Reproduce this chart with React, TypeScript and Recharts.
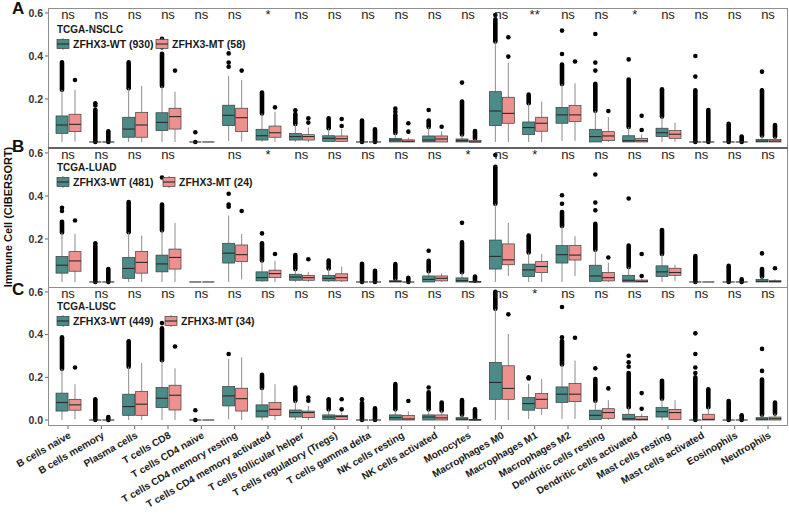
import React from 'react';
import { Bar, ComposedChart, Scatter, XAxis, YAxis } from 'recharts';

type Box = [number, number, number, number, number]; // lower whisker, q1, median, q3, upper whisker

const cells = [
  'B cells naive', 'B cells memory', 'Plasma cells', 'T cells CD8', 'T cells CD4 naive',
  'T cells CD4 memory resting', 'T cells CD4 memory activated', 'T cells follicular helper',
  'T cells regulatory (Tregs)', 'T cells gamma delta', 'NK cells resting', 'NK cells activated',
  'Monocytes', 'Macrophages M0', 'Macrophages M1', 'Macrophages M2', 'Dendritic cells resting',
  'Dendritic cells activated', 'Mast cells resting', 'Mast cells activated', 'Eosinophils', 'Neutrophils',
];

const yTicks = [0, 0.2, 0.4, 0.6];
const yDomain: [number, number] = [-0.028, 0.623];

const cohorts = ['TCGA-NSCLC', 'TCGA-LUAD', 'TCGA-LUSC'];
const wtCounts = [930, 481, 449];
const mtCounts = [58, 24, 34];

// ---- TCGA-NSCLC ----
const nsclcSig = ['ns', 'ns', 'ns', 'ns', 'ns', 'ns', '*', 'ns', 'ns', 'ns', 'ns', 'ns', 'ns', 'ns', '**', 'ns', 'ns', '*', 'ns', 'ns', 'ns', 'ns'];
const nsclcWT: Box[] = [
  [0, 0.04, 0.079, 0.121, 0.243], [0, 0, 0, 0, 0], [0, 0.022, 0.06, 0.115, 0.25], [0, 0.053, 0.091, 0.136, 0.26],
  [0, 0, 0, 0, 0], [0.005, 0.076, 0.124, 0.171, 0.307], [0, 0.009, 0.029, 0.059, 0.133], [0, 0.009, 0.025, 0.04, 0.084],
  [0, 0.003, 0.017, 0.029, 0.064], [0, 0, 0, 0, 0], [0, 0, 0.009, 0.017, 0.042], [0, 0, 0.009, 0.028, 0.07],
  [0, 0, 0.006, 0.014, 0.035], [0, 0.076, 0.144, 0.234, 0.467], [0, 0.034, 0.067, 0.093, 0.18], [0.005, 0.087, 0.126, 0.161, 0.27],
  [0, 0, 0.025, 0.059, 0.145], [0, 0, 0.006, 0.029, 0.07], [0, 0.025, 0.043, 0.064, 0.118], [0, 0, 0, 0, 0],
  [0, 0, 0, 0, 0], [0, 0, 0.004, 0.012, 0.03],
];
const nsclcWTStreak = [0.37, 0.15, 0.37, 0.41, 0, 0, 0.23, 0.13, 0.11, 0.1, 0.126, 0.1, 0.188, 0.57, 0.22, 0.36, 0.27, 0.29, 0.245, 0.24, 0.084, 0.24];
const nsclcWTOut = [[], [0.17, 0.18], [], [0.44, 0.46, 0.48], [0, 0.045], [0.35, 0.369, 0.412], [], [0.147], [], [], [0.14, 0.155], [0.149], [0.276], [0.59], [], [0.409, 0.518], [0.332, 0.369, 0.502], [0.384], [], [0.304, 0.4], [], [0.327]];
const nsclcMT: Box[] = [
  [0.002, 0.048, 0.082, 0.129, 0.242], [0, 0, 0, 0, 0], [0, 0.022, 0.079, 0.138, 0.26], [0, 0.06, 0.118, 0.157, 0.234],
  [0, 0, 0, 0, 0], [0.002, 0.048, 0.113, 0.157, 0.288], [0, 0.022, 0.043, 0.074, 0.141], [0, 0.009, 0.025, 0.034, 0.067],
  [0, 0.003, 0.015, 0.028, 0.06], [0, 0, 0, 0, 0], [0, 0, 0.003, 0.01, 0.02], [0, 0, 0.014, 0.028, 0.05],
  [0, 0, 0, 0.008, 0.015], [0, 0.087, 0.133, 0.208, 0.369], [0, 0.05, 0.087, 0.115, 0.188], [0.005, 0.095, 0.126, 0.169, 0.273],
  [0, 0.006, 0.028, 0.048, 0.115], [0, 0, 0.006, 0.017, 0.035], [0, 0.017, 0.036, 0.053, 0.09], [0, 0, 0, 0, 0],
  [0, 0, 0, 0, 0], [0, 0, 0.004, 0.012, 0.025],
];
const nsclcMTStreak = [0, 0.05, 0, 0, 0, 0, 0, 0, 0, 0.059, 0, 0, 0.051, 0, 0, 0, 0, 0, 0, 0.149, 0.025, 0.079];
const nsclcMTOut = [[0.288], [], [], [0.332], [], [0.332], [0.161], [0.09, 0.11], [0.074, 0.107], [], [0.048, 0.087], [0.071], [], [0.397, 0.487], [], [0.374], [0.144], [0.056, 0.122], [], [], [], []];

// ---- TCGA-LUAD ----
const luadSig = ['ns', 'ns', 'ns', 'ns', '', 'ns', '*', 'ns', 'ns', 'ns', 'ns', 'ns', '*', 'ns', '*', 'ns', 'ns', 'ns', 'ns', 'ns', 'ns', 'ns'];
const luadWT: Box[] = [
  [0, 0.041, 0.078, 0.119, 0.23], [0, 0, 0, 0, 0], [0, 0.017, 0.063, 0.114, 0.231], [0, 0.047, 0.084, 0.125, 0.24],
  [0, 0, 0, 0, 0], [0, 0.088, 0.134, 0.18, 0.309], [0, 0.005, 0.02, 0.047, 0.1], [0, 0.008, 0.023, 0.036, 0.06],
  [0, 0.005, 0.017, 0.031, 0.063], [0, 0, 0, 0, 0], [0, 0, 0.002, 0.006, 0.015], [0, 0, 0.012, 0.028, 0.05],
  [0, 0, 0.006, 0.019, 0.045], [0, 0.06, 0.119, 0.195, 0.364], [0, 0.025, 0.056, 0.083, 0.137], [0, 0.088, 0.127, 0.169, 0.26],
  [0, 0.003, 0.028, 0.078, 0.15], [0, 0, 0.008, 0.031, 0.07], [0, 0.025, 0.047, 0.075, 0.13], [0, 0, 0, 0, 0],
  [0, 0, 0, 0, 0], [0, 0, 0.003, 0.012, 0.025],
];
const luadWTStreak = [0.28, 0.169, 0.372, 0.36, 0, 0, 0.18, 0.125, 0.1, 0.085, 0.083, 0.098, 0.184, 0.536, 0.216, 0.325, 0.27, 0.169, 0.242, 0.12, 0.075, 0.06];
const luadWTOut = [[0.33, 0.345], [0.18], [], [0.486], [], [0.35, 0.36, 0.41], [0.226], [], [], [], [], [0.145], [0.275], [0.59], [], [0.364, 0.403], [0.333, 0.369, 0.5], [0.388], [], [], [], [0.133]];
const luadMT: Box[] = [
  [0, 0.05, 0.098, 0.141, 0.223], [0, 0, 0, 0, 0], [0, 0.041, 0.091, 0.142, 0.216], [0, 0.06, 0.114, 0.153, 0.275],
  [0, 0, 0, 0, 0], [0.012, 0.095, 0.127, 0.172, 0.223], [0, 0.02, 0.039, 0.055, 0.098], [0, 0.008, 0.02, 0.031, 0.047],
  [0, 0.005, 0.02, 0.038, 0.072], [0, 0, 0, 0, 0], [0, 0, 0, 0, 0], [0, 0.005, 0.017, 0.028, 0.04],
  [0, 0, 0, 0.003, 0.006], [0.028, 0.08, 0.103, 0.177, 0.275], [0, 0.044, 0.072, 0.095, 0.13], [0.028, 0.102, 0.125, 0.169, 0.213],
  [0, 0.005, 0.02, 0.044, 0.09], [0, 0, 0.003, 0.009, 0.015], [0.005, 0.031, 0.044, 0.064, 0.08], [0, 0, 0, 0, 0],
  [0, 0, 0, 0, 0], [0, 0, 0.002, 0.006, 0.012],
];
const luadMTStreak = [0, 0.06, 0, 0, 0, 0, 0, 0, 0, 0.052, 0.02, 0, 0.025, 0, 0, 0, 0, 0, 0, 0, 0.012, 0];
const luadMTOut = [[0.286], [], [], [], [], [0.33], [0.13], [0.106], [], [], [], [], [], [], [], [], [0.114], [0.028, 0.13], [], [], [], [0.064]];

// ---- TCGA-LUSC ----
const luscSig = ['ns', 'ns', 'ns', 'ns', 'ns', 'ns', 'ns', 'ns', 'ns', 'ns', 'ns', 'ns', 'ns', 'ns', '*', 'ns', 'ns', 'ns', 'ns', 'ns', 'ns', 'ns'];
const luscWT: Box[] = [
  [0, 0.042, 0.082, 0.126, 0.24], [0, 0, 0, 0, 0], [0, 0.022, 0.063, 0.121, 0.25], [0, 0.058, 0.102, 0.152, 0.28],
  [0, 0, 0, 0, 0], [0.003, 0.066, 0.113, 0.157, 0.286], [0, 0.014, 0.042, 0.071, 0.15], [0, 0.014, 0.035, 0.047, 0.09],
  [0, 0.003, 0.014, 0.024, 0.05], [0, 0, 0, 0, 0], [0, 0, 0.011, 0.024, 0.05], [0, 0, 0.014, 0.024, 0.05],
  [0, 0, 0.004, 0.011, 0.025], [0, 0.097, 0.176, 0.27, 0.521], [0.005, 0.046, 0.077, 0.105, 0.17], [0.005, 0.082, 0.121, 0.155, 0.26],
  [0, 0.003, 0.022, 0.046, 0.09], [0, 0, 0.006, 0.027, 0.06], [0, 0.014, 0.039, 0.058, 0.1], [0, 0, 0, 0, 0],
  [0, 0, 0, 0, 0], [0, 0, 0.004, 0.011, 0.025],
];
const luscWTStreak = [0.388, 0.097, 0.369, 0.43, 0, 0, 0.212, 0.152, 0.097, 0.08, 0.168, 0.13, 0.093, 0.6, 0, 0.37, 0.192, 0.22, 0.184, 0.2, 0.089, 0.19];
const luscWTOut = [[], [], [], [0.454], [0, 0.046], [0.309], [], [], [], [0.097], [], [0.152], [], [], [0.195, 0.2], [0.388, 0.529], [0.242], [0.25, 0.27, 0.301], [], [0.22, 0.246, 0.309, 0.406], [], [0.23, 0.333]];
const luscMT: Box[] = [
  [0.003, 0.046, 0.071, 0.097, 0.168], [0, 0, 0, 0, 0], [0, 0.022, 0.074, 0.133, 0.267], [0, 0.047, 0.116, 0.163, 0.242],
  [0, 0, 0, 0, 0], [0, 0.042, 0.1, 0.149, 0.294], [0, 0.022, 0.05, 0.082, 0.168], [0, 0.011, 0.035, 0.042, 0.066],
  [0, 0.003, 0.016, 0.022, 0.035], [0, 0, 0, 0, 0], [0, 0, 0.005, 0.022, 0.04], [0, 0, 0.01, 0.024, 0.045],
  [0, 0, 0, 0.003, 0.008], [0, 0.097, 0.148, 0.254, 0.403], [0.024, 0.055, 0.097, 0.124, 0.192], [0.005, 0.086, 0.121, 0.171, 0.278],
  [0, 0.008, 0.035, 0.053, 0.093], [0, 0, 0.003, 0.016, 0.03], [0, 0.003, 0.035, 0.05, 0.093], [0, 0, 0.003, 0.027, 0.06],
  [0, 0, 0, 0, 0], [0, 0, 0.006, 0.014, 0.03],
];
const luscMTStreak = [0, 0.014, 0, 0, 0, 0, 0, 0, 0, 0.055, 0, 0.082, 0.05, 0, 0, 0, 0, 0, 0, 0.144, 0.022, 0.082];
const luscMTOut = [[0.246], [], [], [0.344], [], [], [], [0.09, 0.105], [0.05, 0.097], [], [0.089], [], [], [0.495], [], [0.385], [0.148], [0.053, 0.126], [], [], [], []];

const FONT = '"Liberation Sans", Arial, Helvetica, sans-serif';
const WT_FILL = '#4b8b88';
const MT_FILL = '#ec918d';
const EDGE = '#3c3c3c';
const WHISKER = '#8c8c8c';

function makeRows(sig: string[], wt: Box[], wtS: number[], wtO: number[][], mt: Box[], mtS: number[], mtO: number[][]) {
  return cells.map((cell, i) => ({
    cell,
    sig: sig[i],
    sigY: 0.6,
    wt: { box: wt[i], streak: wtS[i], out: wtO[i] },
    mt: { box: mt[i], streak: mtS[i], out: mtO[i] },
  }));
}

const panels = [
  makeRows(nsclcSig, nsclcWT, nsclcWTStreak, nsclcWTOut, nsclcMT, nsclcMTStreak, nsclcMTOut),
  makeRows(luadSig, luadWT, luadWTStreak, luadWTOut, luadMT, luadMTStreak, luadMTOut),
  makeRows(luscSig, luscWT, luscWTStreak, luscWTOut, luscMT, luscMTStreak, luscMTOut),
];

// each bar spans the whole y domain, so its geometry gives the y scale for the box parts
const spanWT = () => yDomain;
const spanMT = () => yDomain;

function boxShape(key: 'wt' | 'mt', fill: string) {
  return (props: any) => {
    const { x, y, width, height, payload } = props;
    const top = Math.min(y, y + height);
    const h = Math.abs(height);
    const py = (v: number) => top + (h * (yDomain[1] - v)) / (yDomain[1] - yDomain[0]);
    const d = payload[key];
    const [lo, q1, med, q3, hi] = d.box as Box;
    const cx = x + width / 2;
    return (
      <g>
        {d.streak > hi && (
          <line x1={cx} x2={cx} y1={py(hi)} y2={py(d.streak)} stroke="#000" strokeWidth={4.6} strokeLinecap="round" />
        )}
        {d.out.map((v: number, j: number) => (
          <circle key={j} cx={cx} cy={py(v)} r={2.3} fill="#000" />
        ))}
        <line x1={cx} x2={cx} y1={py(hi)} y2={py(q3)} stroke={WHISKER} strokeWidth={1} />
        <line x1={cx} x2={cx} y1={py(q1)} y2={py(lo)} stroke={WHISKER} strokeWidth={1} />
        <rect x={x + 0.5} y={py(q3)} width={width - 1} height={Math.max(py(q1) - py(q3), 0)} fill={fill} stroke={EDGE} strokeWidth={0.7} />
        <line x1={x + 0.5} x2={x + width - 0.5} y1={py(med)} y2={py(med)} stroke="#2a2a2a" strokeWidth={1.1} />
      </g>
    );
  };
}

const sigShape = (props: any) => {
  const { cx, cy, payload } = props;
  if (!payload.sig) return <g />;
  return (
    <text x={cx} y={cy + 6} textAnchor="middle" fontSize={13} fontFamily={FONT} fill="#222">
      {payload.sig}
    </text>
  );
};

function AngledTick({ x, y, payload }: any) {
  return (
    <g transform={`translate(${x},${y})`}>
      <text transform="rotate(-30)" textAnchor="end" dy="0.72em" fontSize={10} fontWeight="bold" fill="#1a1a1a" fontFamily={FONT}>
        {payload.value}
      </text>
    </g>
  );
}

interface PanelProps {
  rows: ReturnType<typeof makeRows>;
  top: number;
  height: number;
  marginTop: number;
  showX: boolean;
  ticks: number[];
}

function Panel({ rows, top, height, marginTop, showX, ticks }: PanelProps) {
  return (
    <div style={{ position: 'absolute', left: 0, top, width: 789, height }}>
      <ComposedChart
        width={789}
        height={height}
        data={rows}
        margin={{ top: marginTop, right: 1, left: 14, bottom: 0 }}
        barCategoryGap="12.5%"
        barGap={0}
      >
        <XAxis
          dataKey="cell"
          hide={!showX}
          interval={0}
          padding={{ left: 3.33, right: 3.33 }}
          height={87}
          tick={<AngledTick />}
          tickLine={{ stroke: '#666' }}
          tickSize={3}
          tickMargin={2}
          axisLine={false}
        />
        <YAxis
          type="number"
          domain={yDomain}
          ticks={ticks}
          allowDataOverflow
          width={34}
          axisLine={false}
          tickLine={{ stroke: '#666' }}
          tickSize={3}
          tickMargin={2}
          tickFormatter={(v: number) => v.toFixed(1)}
          tick={{ fontSize: 10.5, fontWeight: 'bold', fill: '#333', fontFamily: FONT }}
        />
        <Bar dataKey={spanWT} shape={boxShape('wt', WT_FILL)} isAnimationActive={false} />
        <Bar dataKey={spanMT} shape={boxShape('mt', MT_FILL)} isAnimationActive={false} />
        <Scatter dataKey="sigY" shape={sigShape} isAnimationActive={false} />
      </ComposedChart>
    </div>
  );
}

function KeyGlyph({ x, y, fill }: { x: number; y: number; fill: string }) {
  return (
    <g>
      <line x1={x + 6} x2={x + 6} y1={y - 6} y2={y + 6} stroke={WHISKER} />
      <rect x={x} y={y - 4.5} width={12} height={9} fill={fill} stroke={EDGE} strokeWidth={0.7} />
      <line x1={x} x2={x + 12} y1={y} y2={y} stroke="#2a2a2a" strokeWidth={1.1} />
    </g>
  );
}

// legend placement per panel: title baseline, key row centre, MT key x
const legendPos = [
  { titleY: 33, keyY: 44, mtX: 156 },
  { titleY: 171, keyY: 182, mtX: 163 },
  { titleY: 310, keyY: 321, mtX: 165 },
];
const panelBoxes = [
  { y: 8, h: 140 },
  { y: 148, h: 140 },
  { y: 287, h: 139 },
];
const letters = [
  { t: 'A', y: 14 },
  { t: 'B', y: 152 },
  { t: 'C', y: 295 },
];

export default function App() {
  return (
    <div style={{ position: 'absolute', left: 0, top: 0, width: 789, height: 513, background: '#fff', fontFamily: FONT }}>
      <Panel rows={panels[0]} top={0} height={148} marginTop={8} showX={false} ticks={yTicks.slice(1)} />
      <Panel rows={panels[1]} top={148} height={140} marginTop={0} showX={false} ticks={yTicks.slice(1)} />
      <Panel rows={panels[2]} top={287} height={226} marginTop={0} showX ticks={yTicks} />
      <svg width={789} height={513} style={{ position: 'absolute', left: 0, top: 0, pointerEvents: 'none' }}>
        {panelBoxes.map((b, i) => (
          <rect key={i} x={48.5} y={b.y + 0.5} width={739} height={b.h - 1} fill="none" stroke="#8f8f8f" strokeWidth={1} />
        ))}
        <line x1={48} x2={788} y1={148} y2={148} stroke="#555" strokeWidth={1.5} />
        {letters.map((l) => (
          <text key={l.t} x={12} y={l.y} fontSize={17} fontWeight="bold" fill="#111" fontFamily={FONT}>
            {l.t}
          </text>
        ))}
        <text
          transform="translate(11.5,217) rotate(-90)"
          textAnchor="middle"
          fontSize={11}
          fontWeight="bold"
          fill="#111"
          fontFamily={FONT}
        >
          Immune Cell (CIBERSORT)
        </text>
        {legendPos.map((p, i) => (
          <g key={i} fontFamily={FONT} fontWeight="bold" fill="#1a1a1a">
            <text x={57} y={p.titleY} fontSize={10}>
              {cohorts[i]}
            </text>
            <KeyGlyph x={57} y={p.keyY} fill={WT_FILL} />
            <text x={73} y={p.keyY + 4} fontSize={10.5}>
              {`ZFHX3-WT (${wtCounts[i]})`}
            </text>
            <KeyGlyph x={p.mtX} y={p.keyY} fill={MT_FILL} />
            <text x={p.mtX + 16} y={p.keyY + 4} fontSize={10.5}>
              {`ZFHX3-MT (${mtCounts[i]})`}
            </text>
          </g>
        ))}
      </svg>
    </div>
  );
}
